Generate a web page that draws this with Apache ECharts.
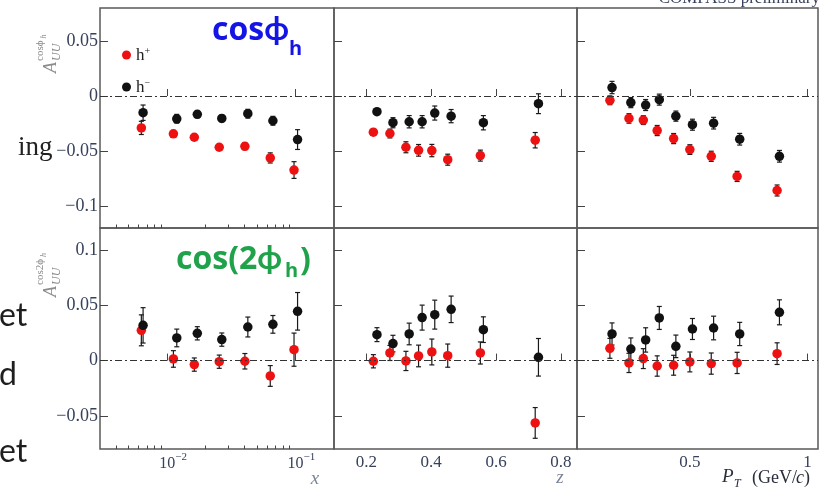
<!DOCTYPE html>
<html><head><meta charset="utf-8">
<script src="https://cdn.jsdelivr.net/npm/echarts@6/dist/echarts.min.js"></script>
<style>html,body{margin:0;padding:0;background:#fff}#c{width:821px;height:494px}</style>
</head><body><div id="c"></div>
<script>
// ---------- x bins ----------
const x_hp = [0.0063, 0.0112, 0.0163, 0.0255, 0.0404, 0.0637, 0.0976];
const x_hm = [0.0065, 0.0119, 0.0172, 0.0267, 0.0426, 0.0668, 0.104];
const z_hp = [0.2215, 0.2726, 0.322, 0.361, 0.402, 0.451, 0.5517, 0.721];
const z_hm = [0.2326, 0.282, 0.332, 0.372, 0.411, 0.4615, 0.561, 0.731];
const pt_hp = [0.160, 0.241, 0.302, 0.361, 0.431, 0.500, 0.591, 0.701, 0.871];
const pt_hm = [0.169, 0.249, 0.312, 0.370, 0.4405, 0.511, 0.601, 0.712, 0.881];

// ---------- A_UU^{cos phi_h} ----------
const cos_x_hp = [-0.0290, -0.0344, -0.0375, -0.0466, -0.0457, -0.0563, -0.0673];
const cos_x_hp_err = [0.006, 0.003, 0.002, 0.002, 0.003, 0.0046, 0.0076];
const cos_x_hm = [-0.0152, -0.0207, -0.0167, -0.0204, -0.0161, -0.0225, -0.0396];
const cos_x_hm_err = [0.007, 0.004, 0.003, 0.003, 0.004, 0.004, 0.009];

const cos_z_hp = [-0.0329, -0.0341, -0.0466, -0.0494, -0.0496, -0.0579, -0.0542, -0.0402];
const cos_z_hp_err = [0.002, 0.004, 0.005, 0.0053, 0.0056, 0.005, 0.005, 0.007];
const cos_z_hm = [-0.0143, -0.0243, -0.0234, -0.0234, -0.0155, -0.0183, -0.0243, -0.0070];
const cos_z_hm_err = [0.002, 0.0046, 0.0056, 0.0056, 0.0064, 0.006, 0.0065, 0.009];

const cos_pt_hp = [-0.0039, -0.0204, -0.0219, -0.0314, -0.0387, -0.0487, -0.0548, -0.0731, -0.0859];
const cos_pt_hp_err = [0.004, 0.0043, 0.004, 0.0046, 0.0046, 0.0044, 0.0046, 0.0046, 0.005];
const cos_pt_hm = [0.0077, -0.0060, -0.0082, -0.0033, -0.0183, -0.0261, -0.0247, -0.0393, -0.0548];
const cos_pt_hm_err = [0.0056, 0.0046, 0.005, 0.005, 0.0046, 0.005, 0.0053, 0.0053, 0.0053];

// ---------- A_UU^{cos 2phi_h} ----------
const cos2_x_hp = [0.0274, 0.0015, -0.0036, -0.0010, -0.0006, -0.0139, 0.0099];
const cos2_x_hp_err = [0.014, 0.0075, 0.006, 0.006, 0.007, 0.0094, 0.015];
const cos2_x_hm = [0.0319, 0.0205, 0.0247, 0.0190, 0.0304, 0.0328, 0.0446];
const cos2_x_hm_err = [0.016, 0.008, 0.006, 0.006, 0.009, 0.008, 0.017];

const cos2_z_hp = [-0.0006, 0.0069, -0.0003, 0.0042, 0.0078, 0.0045, 0.0069, -0.0564];
const cos2_z_hp_err = [0.006, 0.0068, 0.0087, 0.0098, 0.0117, 0.0105, 0.010, 0.0139];
const cos2_z_hm = [0.0235, 0.0154, 0.0241, 0.0389, 0.0416, 0.0464, 0.0280, 0.0030];
const cos2_z_hm_err = [0.0063, 0.0075, 0.0098, 0.0113, 0.0131, 0.012, 0.0116, 0.017];

const cos2_pt_hp = [0.0111, -0.0021, 0.0018, -0.0049, -0.0042, -0.0012, -0.0027, -0.0021, 0.0063];
const cos2_pt_hp_err = [0.009, 0.0087, 0.009, 0.0092, 0.009, 0.009, 0.0096, 0.0096, 0.0098];
const cos2_pt_hm = [0.0241, 0.0105, 0.0187, 0.0386, 0.0129, 0.0286, 0.0295, 0.0241, 0.0437];
const cos2_pt_hm_err = [0.010, 0.010, 0.011, 0.0104, 0.0102, 0.0095, 0.0107, 0.0105, 0.0113];

// ---------- axes ticks ----------
const xRange = [0.003, 0.2];
const zRange = [0.1, 0.85];
const ptRange = [0.02, 1.045];
const topYRange = [-0.12, 0.08];
const botYRange = [-0.08, 0.12];
const logMajorTicks = [0.01, 0.1];
const logMinorTicks = [0.004, 0.005, 0.006, 0.007, 0.008, 0.009, 0.02, 0.03, 0.04, 0.05, 0.06, 0.07, 0.08, 0.09];
const zTicks = [0.2, 0.4, 0.6, 0.8];
const ptTicks = [0.5, 1];
const topYTicks = [-0.1, -0.05, 0, 0.05];
const botYTicks = [-0.05, 0, 0.05, 0.1];

const RED = '#ee1111', BLK = '#111111';
const LBL = '#37415c';
const SERIF = '"Liberation Serif", "DejaVu Serif", serif';
const SANS = '"Open Sans", Lato, "DejaVu Sans", sans-serif';
const SLIDE = 'Lato, "Open Sans", sans-serif';

const grids = [
  {left:100, top:8, width:234, height:220},
  {left:334, top:8, width:243, height:220},
  {left:577, top:8, width:241, height:220},
  {left:100, top:228, width:234, height:221},
  {left:334, top:228, width:243, height:221},
  {left:577, top:228, width:241, height:221}
].map(g => Object.assign(g, {show:true, borderColor:'#5a5a5a', borderWidth:1.5, backgroundColor:'transparent'}));

const tickStyle = {color:'#444', width:1};
const xAxes = [];
const yAxes = [];

function supFmt(v){
  const e = Math.round(Math.log10(v));
  return '{p|}{b|10}{s|' + (e < 0 ? '\u2212' + (-e) : e) + '}';
}
function mainX(gi, type, range, ticks, showLabel){
  const ax = {
    type: type, gridIndex: gi, position:'bottom', min: range[0], max: range[1],
    axisLine:{show:false}, splitLine:{show:false},
    axisTick:{show:true, inside:true, length:7, lineStyle:tickStyle, customValues: ticks},
    axisLabel:{show:showLabel, customValues: ticks, margin: type==='log'?3:5,
      color: LBL, fontFamily: SERIF, fontSize: 17}
  };
  if (type === 'log') {
    ax.logBase = 10;
    ax.axisLabel.formatter = supFmt;
    ax.axisLabel.rich = {
      p:{width:12, fontSize:10},
      b:{fontSize:16, fontFamily:SERIF, color:LBL, verticalAlign:'bottom', lineHeight:20},
      s:{fontSize:11, fontFamily:SERIF, color:LBL, verticalAlign:'top', lineHeight:20}
    };
  } else {
    ax.axisLabel.formatter = v => String(parseFloat(v.toFixed(2)));
  }
  xAxes.push(ax);
  return xAxes.length - 1;
}
function minorLogX(gi){
  xAxes.push({
    type:'log', logBase:10, gridIndex: gi, position:'bottom', offset:0, min: xRange[0], max: xRange[1],
    axisLine:{show:false}, splitLine:{show:false}, axisLabel:{show:false},
    axisTick:{show:true, inside:true, length:3.5, lineStyle:tickStyle, customValues: logMinorTicks}
  });
}
function yFmt(v){
  const a = parseFloat(Math.abs(v).toFixed(3)).toString();
  return v < -1e-9 ? '\u2212' + a : a;
}
function mainY(gi, range, ticks, showLabel){
  yAxes.push({
    type:'value', gridIndex: gi, position:'left', min: range[0], max: range[1],
    axisLine:{show:false}, splitLine:{show:false},
    axisTick:{show:true, inside:true, length:8, lineStyle:tickStyle, customValues: ticks},
    axisLabel:{show:showLabel, customValues: ticks, margin:2, color:LBL, fontFamily:SERIF, fontSize:18, formatter:yFmt}
  });
  return yAxes.length - 1;
}

const panels = [
  {gi:0, type:'log', range:xRange, ticks:logMajorTicks, lab:false, yr:topYRange, yt:topYTicks, ylab:true,
   xp:x_hp, xm:x_hm, yp:cos_x_hp, ep:cos_x_hp_err, ym:cos_x_hm, em:cos_x_hm_err},
  {gi:1, type:'value', range:zRange, ticks:zTicks, lab:false, yr:topYRange, yt:topYTicks, ylab:false,
   xp:z_hp, xm:z_hm, yp:cos_z_hp, ep:cos_z_hp_err, ym:cos_z_hm, em:cos_z_hm_err},
  {gi:2, type:'value', range:ptRange, ticks:ptTicks, lab:false, yr:topYRange, yt:topYTicks, ylab:false,
   xp:pt_hp, xm:pt_hm, yp:cos_pt_hp, ep:cos_pt_hp_err, ym:cos_pt_hm, em:cos_pt_hm_err},
  {gi:3, type:'log', range:xRange, ticks:logMajorTicks, lab:true, yr:botYRange, yt:botYTicks, ylab:true,
   xp:x_hp, xm:x_hm, yp:cos2_x_hp, ep:cos2_x_hp_err, ym:cos2_x_hm, em:cos2_x_hm_err},
  {gi:4, type:'value', range:zRange, ticks:zTicks, lab:true, yr:botYRange, yt:botYTicks, ylab:false,
   xp:z_hp, xm:z_hm, yp:cos2_z_hp, ep:cos2_z_hp_err, ym:cos2_z_hm, em:cos2_z_hm_err},
  {gi:5, type:'value', range:ptRange, ticks:ptTicks, lab:true, yr:botYRange, yt:botYTicks, ylab:false,
   xp:pt_hp, xm:pt_hm, yp:cos2_pt_hp, ep:cos2_pt_hp_err, ym:cos2_pt_hm, em:cos2_pt_hm_err}
];

function errRender(params, api){
  const x = api.value(0), y = api.value(1), e = api.value(2);
  const p1 = api.coord([x, y + e]), p2 = api.coord([x, y - e]);
  const c = 2.5;
  const st = {stroke:'#1a1a1a', lineWidth:1.2};
  return {type:'group', children:[
    {type:'line', shape:{x1:p1[0], y1:p1[1], x2:p2[0], y2:p2[1]}, style:st},
    {type:'line', shape:{x1:p1[0]-c, y1:p1[1], x2:p1[0]+c, y2:p1[1]}, style:st},
    {type:'line', shape:{x1:p2[0]-c, y1:p2[1], x2:p2[0]+c, y2:p2[1]}, style:st}
  ]};
}

const series = [];
panels.forEach(p => {
  const xi = mainX(p.gi, p.type, p.range, p.ticks, p.lab);
  if (p.type === 'log') minorLogX(p.gi);
  const yi = mainY(p.gi, p.yr, p.yt, p.ylab);
  const mk = (xs, ys, es) => xs.map((x, i) => [x, ys[i], es[i]]);
  series.push({type:'custom', name:'err+'+p.gi, xAxisIndex:xi, yAxisIndex:yi, renderItem:errRender,
    encode:{x:0, y:1}, data: mk(p.xp, p.yp, p.ep), z:2, silent:true});
  series.push({type:'custom', name:'err-'+p.gi, xAxisIndex:xi, yAxisIndex:yi, renderItem:errRender,
    encode:{x:0, y:1}, data: mk(p.xm, p.ym, p.em), z:2, silent:true});
  series.push({type:'scatter', name:'h+', xAxisIndex:xi, yAxisIndex:yi, symbol:'circle', symbolSize:9.5,
    itemStyle:{color:RED, opacity:1}, data: p.xp.map((x,i)=>[x, p.yp[i]]), z:3,
    markLine:{silent:true, symbol:'none', label:{show:false}, animation:false,
      lineStyle:{color:'#333', type:[7,3,2,3], width:1}, data:[{yAxis:0}]}});
  series.push({type:'scatter', name:'h\u2212', xAxisIndex:xi, yAxisIndex:yi, symbol:'circle', symbolSize:9.5,
    itemStyle:{color:BLK, opacity:1}, data: p.xm.map((x,i)=>[x, p.ym[i]]), z:3});
});

function yTitle(x, y, sup){
  const base = {fontFamily:SERIF, fontStyle:'italic', fill:'#8c8c8c', align:'left', verticalAlign:'bottom'};
  return {type:'group', x:x, y:y, rotation:Math.PI/2, children:[
    {type:'text', x:0, y:1, style:Object.assign({}, base, {text:'A', fontSize:18})},
    {type:'text', x:12, y:4, style:Object.assign({}, base, {text:'UU', fontSize:12})},
    {type:'text', x:12, y:-13, style:Object.assign({}, base, {text:sup, fontSize:11, fontStyle:'normal'})},
    {type:'text', x:12 + sup.length * 5.6, y:-11, style:Object.assign({}, base, {text:'h', fontSize:8})}
  ]};
}

const graphics = [
  {type:'text', x:820, y:7, style:{text:'COMPASS preliminary', fontFamily:SERIF, fontSize:17, fill:LBL, align:'right', verticalAlign:'bottom'}},
  {type:'text', x:18, y:148, style:{text:'ing', fontFamily:SERIF, fontSize:27, fill:'#222', align:'left', verticalAlign:'middle'}},
  {type:'text', x:-1, y:316, style:{text:'et', fontFamily:SLIDE, fontSize:32, fill:'#1e1e1e', align:'left', verticalAlign:'middle'}},
  {type:'text', x:-1, y:375, style:{text:'d', fontFamily:SLIDE, fontSize:32, fill:'#1e1e1e', align:'left', verticalAlign:'middle'}},
  {type:'text', x:-1, y:452, style:{text:'et', fontFamily:SLIDE, fontSize:32, fill:'#1e1e1e', align:'left', verticalAlign:'middle'}},
  // moment labels
  {type:'text', x:212, y:31, style:{text:'cos\u03D5', fontFamily:SANS, fontWeight:'bold', fontSize:32, fill:'#1414e6', align:'left', verticalAlign:'middle'}},
  {type:'text', x:289, y:49, style:{text:'h', fontFamily:SANS, fontWeight:'bold', fontSize:20, fill:'#1414e6', align:'left', verticalAlign:'middle'}},
  {type:'text', x:176, y:260, style:{text:'cos(2\u03D5', fontFamily:SANS, fontWeight:'bold', fontSize:32, fill:'#1fa24a', align:'left', verticalAlign:'middle'}},
  {type:'text', x:285, y:271, style:{text:'h', fontFamily:SANS, fontWeight:'bold', fontSize:20, fill:'#1fa24a', align:'left', verticalAlign:'middle'}},
  {type:'text', x:300, y:261, style:{text:')', fontFamily:SANS, fontWeight:'bold', fontSize:32, fill:'#1fa24a', align:'left', verticalAlign:'middle'}},
  // axis titles
  yTitle(59, 73, 'cos\u03D5'),
  yTitle(59, 297, 'cos2\u03D5'),
  {type:'text', x:315, y:479, style:{text:'x', fontFamily:SERIF, fontStyle:'italic', fontSize:19, fill:'#7b8498', align:'center', verticalAlign:'middle'}},
  {type:'text', x:560, y:478, style:{text:'z', fontFamily:SERIF, fontStyle:'italic', fontSize:19, fill:'#7b8498', align:'center', verticalAlign:'middle'}},
  {type:'text', x:722, y:477, style:{text:'P', fontFamily:SERIF, fontStyle:'italic', fontSize:19, fill:'#2a2d3a', align:'left', verticalAlign:'middle'}},
  {type:'text', x:734, y:484, style:{text:'T', fontFamily:SERIF, fontStyle:'italic', fontSize:12, fill:'#2a2d3a', align:'left', verticalAlign:'middle'}},
  {type:'text', x:752, y:478, style:{text:'(GeV/', fontFamily:SERIF, fontSize:18, fill:'#2a2d3a', align:'left', verticalAlign:'middle'}},
  {type:'text', x:796, y:478, style:{text:'c', fontFamily:SERIF, fontStyle:'italic', fontSize:18, fill:'#2a2d3a', align:'left', verticalAlign:'middle'}},
  {type:'text', x:804, y:478, style:{text:')', fontFamily:SERIF, fontSize:18, fill:'#2a2d3a', align:'left', verticalAlign:'middle'}}
];

const option = {
  animation:false,
  backgroundColor:'#ffffff',
  grid: grids,
  xAxis: xAxes,
  yAxis: yAxes,
  legend: {
    data:['h+', 'h\u2212'], orient:'vertical', left:117, top:41, itemWidth:9, itemHeight:9, itemGap:14,
    icon:'circle', selectedMode:false, itemStyle:{borderWidth:0},
    formatter: n => '{h|h}{s|' + (n === 'h+' ? '+' : '\u2212') + '}',
    textStyle:{color:'#222', fontFamily:SERIF, fontSize:17, rich:{
      h:{fontSize:17, fontFamily:SERIF, color:'#222', verticalAlign:'bottom', lineHeight:18},
      s:{fontSize:10, fontFamily:SERIF, color:'#222', verticalAlign:'top', lineHeight:18}
    }}
  },
  graphic: graphics,
  series: series
};

const chart = echarts.init(document.getElementById('c'), null, {renderer:'canvas'});
chart.setOption(option);
</script></body></html>
